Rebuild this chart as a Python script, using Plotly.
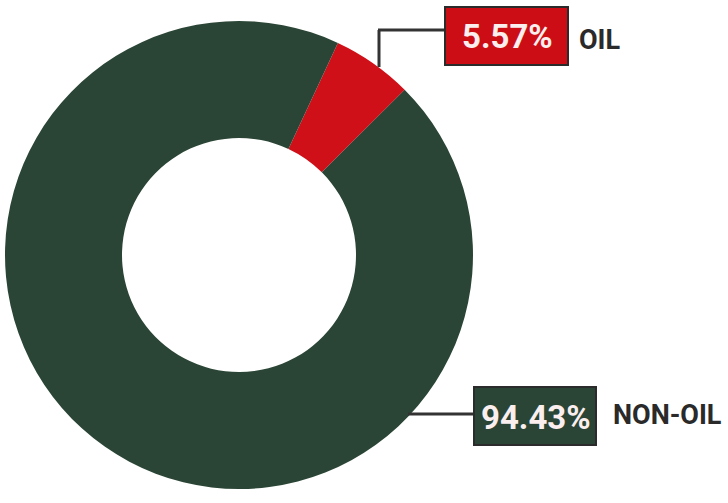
import plotly.graph_objects as go

# ---- data ----
labels = ["OIL", "NON-OIL"]
values = [5.57, 94.43]
value_text = ["5.57%", "94.43%"]
colors = ["#cf1018", "#2a4535"]
box_colors = ["#cc0d15", "#2a4535"]

W, H = 728, 503

def px(x):
    return x / W

def py(y):
    return 1 - y / H

cx, cy, r = 239, 255, 234

fig = go.Figure()
fig.add_trace(go.Pie(
    labels=labels, values=values, hole=0.5, sort=False,
    direction="clockwise", rotation=25,
    marker=dict(colors=colors, line=dict(width=0)),
    textinfo="none", hoverinfo="label+percent", showlegend=False,
    domain=dict(x=[px(cx - r), px(cx + r)], y=[py(cy + r), py(cy - r)]),
))

shapes = []
line_style = dict(color="#333333", width=3)
# OIL leader
shapes.append(dict(type="line", xref="paper", yref="paper",
                   x0=px(379), y0=py(67), x1=px(379), y1=py(30), line=line_style))
shapes.append(dict(type="line", xref="paper", yref="paper",
                   x0=px(378), y0=py(30), x1=px(446), y1=py(30), line=line_style))
# NON-OIL leader
shapes.append(dict(type="line", xref="paper", yref="paper",
                   x0=px(408), y0=py(414), x1=px(475), y1=py(414), line=line_style))

# label boxes
boxes = [(445, 7, 568, 65), (474, 387, 596, 445)]
for (x0, y0, x1, y1), bc in zip(boxes, box_colors):
    shapes.append(dict(type="rect", xref="paper", yref="paper",
                       x0=px(x0), y0=py(y1), x1=px(x1), y1=py(y0),
                       fillcolor=bc, line=dict(color="#2b2b2b", width=2)))

annotations = []
for (x0, y0, x1, y1), vt in zip(boxes, value_text):
    annotations.append(dict(xref="paper", yref="paper",
                            x=px((x0 + x1) / 2 + 1), y=py((y0 + y1) / 2 + 1),
                            text="<b>%s</b>" % vt, showarrow=False,
                            xanchor="center", yanchor="middle",
                            font=dict(family="Roboto", size=33, color="#fbeeee")))
name_pos = [(577, 40), (611, 415)]
for (x, y), lab in zip(name_pos, labels):
    annotations.append(dict(xref="paper", yref="paper", x=px(x), y=py(y),
                            text="<b>%s</b>" % lab, showarrow=False,
                            xanchor="left", yanchor="middle",
                            font=dict(family="Roboto", size=27, color="#2a2a2a")))

fig.update_layout(
    width=W, height=H, margin=dict(l=0, r=0, t=0, b=0),
    paper_bgcolor="white", plot_bgcolor="white",
    shapes=shapes, annotations=annotations,
)

fig.write_html("out.html")
